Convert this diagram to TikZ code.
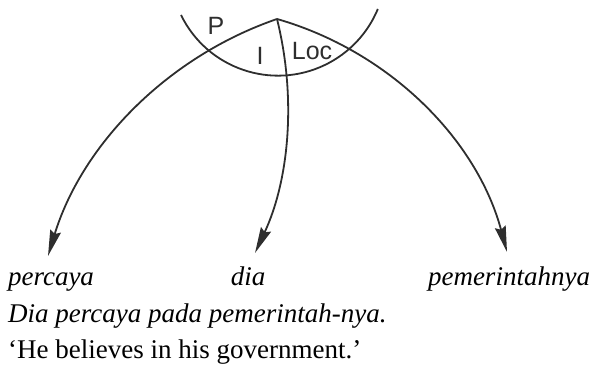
\documentclass[tikz,border=0pt]{standalone}
\usepackage{fontspec}
\setmainfont{Liberation Serif}
\newfontfamily\rolefont{Liberation Sans}
\usetikzlibrary{arrows.meta}
\definecolor{inkc}{HTML}{2E2E2E}

\begin{document}
\begin{tikzpicture}[x=1pt, y=1pt,
  arr/.style={-{Stealth[length=26pt, width=11pt, inset=3pt]}, inkc, line width=1.8pt},
  lens/.style={inkc, line width=1.8pt},
  word/.style={anchor=base, inner sep=0pt, font=\fontsize{27}{32}\selectfont\itshape},
  gloss/.style={anchor=base west, inner sep=0pt, font=\fontsize{27}{32}\selectfont},
  role/.style={anchor=base, inner sep=0pt, text=inkc, font=\fontsize{25}{30}\selectfont\rolefont}]
\useasboundingbox (0,0) rectangle (593,366);

\coordinate (top) at (277,347);
\coordinate (tipP) at (48,110);
\coordinate (tipI) at (255,113);
\coordinate (tipL) at (507,114);

\node[word] (percaya) at (51,80) {percaya};
\node[word] (dia) at (248,80) {dia};
\node[word] (pemerintah) at (509,80) {pemerintahnya};

\node[gloss] (sentence) at (8,43) {\itshape Dia percaya pada pemerintah-nya.};
\node[gloss] (transl) at (8,8) {‘He believes in his government.’};

% the three relations
\draw[arr] (top) to[out=199, in=73, looseness=0.9] (tipP);
\draw[arr] (top) to[out=-76, in=65, looseness=0.88] (tipI);
\draw[arr] (top) to[out=-16, in=105, looseness=0.91] (tipL);

% arc across them
\draw[lens] (181,351) arc[start angle=206, end angle=337.5, radius=108];

\node[role] (rP) at (216,331) {P};
\node[role] (rI) at (260,301) {I};
\node[role] (rLoc) at (312,306) {Loc};
\end{tikzpicture}
\end{document}
